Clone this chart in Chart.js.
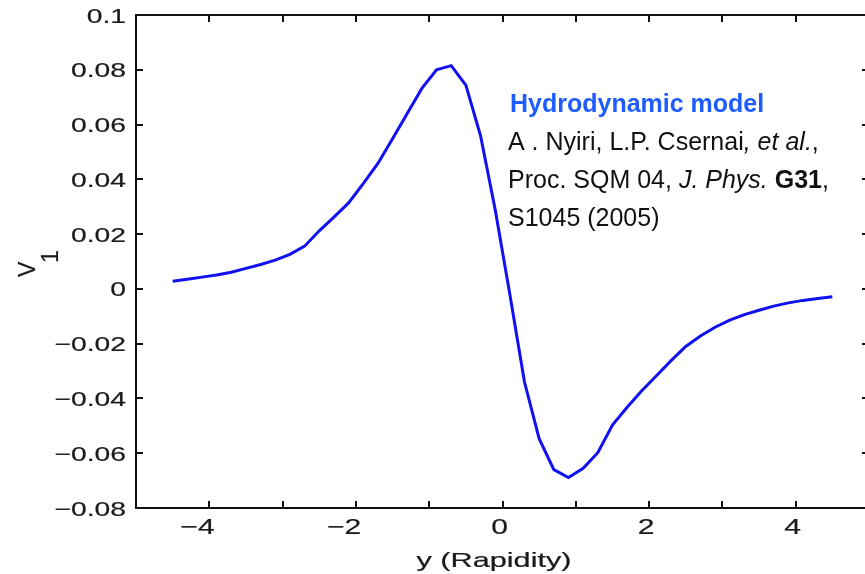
<!DOCTYPE html>
<html>
<head>
<meta charset="utf-8">
<script src="https://cdn.jsdelivr.net/npm/chart.js@4/dist/chart.umd.min.js"></script>
<style>
  html, body { margin: 0; padding: 0; background: #fff; overflow: hidden; }
  #wrap { position: absolute; left: 0; top: 0; width: 880px; height: 574px; }
</style>
</head>
<body>
<div id="wrap"><canvas id="c" width="880" height="574"></canvas></div>
<script>
// ---- data ----
const rapidity = [-4.5, -4.3, -4.1, -3.9, -3.7, -3.5, -3.3, -3.1, -2.9, -2.7,
                  -2.5, -2.3, -2.1, -1.9, -1.7, -1.5, -1.3, -1.1, -0.9, -0.7,
                  -0.5, -0.3, -0.1, 0.1, 0.3, 0.5, 0.7, 0.9, 1.1, 1.3,
                  1.5, 1.7, 1.9, 2.1, 2.3, 2.5, 2.7, 2.9, 3.1, 3.3,
                  3.5, 3.7, 3.9, 4.1, 4.3, 4.5];
const v1 = [0.0028, 0.0035, 0.0043, 0.0051, 0.0061, 0.0075, 0.0089, 0.0105, 0.0126, 0.0156,
            0.0212, 0.0262, 0.0314, 0.0384, 0.0458, 0.0548, 0.0640, 0.0732, 0.0800, 0.0815,
            0.0744, 0.0560, 0.0290, -0.0020, -0.0340, -0.0547, -0.0660, -0.0689, -0.0655, -0.0598,
            -0.0497, -0.0432, -0.0372, -0.0317, -0.0262, -0.0210, -0.0172, -0.0140, -0.0114, -0.0094,
            -0.0078, -0.0063, -0.0051, -0.0042, -0.0035, -0.0029];
const xTickLabels = ['\u22124', '\u22122', '0', '2', '4'];
const xTickLabelValues = [-4, -2, 0, 2, 4];
const yTickValues = [-0.08, -0.06, -0.04, -0.02, 0, 0.02, 0.04, 0.06, 0.08, 0.1];
const yTickLabels = ['\u22120.08', '\u22120.06', '\u22120.04', '\u22120.02', '0', '0.02', '0.04', '0.06', '0.08', '0.1'];
const xTitle = 'y (Rapidity)';
const yTitleMain = 'V';
const yTitleSub = '1';
const noteTitle = 'Hydrodynamic model';

const FONT = '"Liberation Sans", Arial, Helvetica, sans-serif';

function stretched(ctx, text, x, y, sx, align) {
  ctx.save();
  ctx.translate(x, y);
  ctx.scale(sx, 1);
  ctx.textAlign = align;
  ctx.textBaseline = 'alphabetic';
  ctx.lineWidth = 0.2;
  ctx.strokeStyle = ctx.fillStyle;
  ctx.fillText(text, 0, 0);
  ctx.strokeText(text, 0, 0);
  ctx.restore();
}

function drawRuns(ctx, runs, x, y) {
  let cx = x;
  ctx.textAlign = 'left';
  ctx.textBaseline = 'alphabetic';
  for (const r of runs) {
    ctx.font = r.font;
    ctx.fillStyle = r.color || '#111';
    ctx.fillText(r.t, cx, y);
    cx += ctx.measureText(r.t).width;
  }
}

const decor = {
  id: 'decor',
  afterDraw(chart) {
    const ctx = chart.ctx;
    const a = chart.chartArea;
    const xs = chart.scales.x, ys = chart.scales.y;
    ctx.save();
    // box
    ctx.strokeStyle = '#111';
    ctx.lineWidth = 2;
    ctx.strokeRect(a.left, a.top, a.right - a.left, a.bottom - a.top);
    // ticks (inward)
    ctx.lineWidth = 2;
    ctx.beginPath();
    xs.ticks.forEach(t => {
      const px = Math.round(xs.getPixelForValue(t.value));
      ctx.moveTo(px, a.bottom); ctx.lineTo(px, a.bottom - 7);
      ctx.moveTo(px, a.top); ctx.lineTo(px, a.top + 7);
    });
    ys.ticks.forEach(t => {
      const py = Math.round(ys.getPixelForValue(t.value));
      ctx.moveTo(a.left, py); ctx.lineTo(a.left + 7, py);
      ctx.moveTo(a.right, py); ctx.lineTo(a.right - 7, py);
    });
    ctx.stroke();

    // y tick labels
    ctx.fillStyle = '#1a1a1a';
    ctx.font = '20.5px ' + FONT;
    yTickValues.forEach((v, i) => {
      const py = ys.getPixelForValue(v);
      stretched(ctx, yTickLabels[i], a.left - 10, py + 7.5, 1.38, 'right');
    });
    // x tick labels (digits centred, minus hanging left)
    ctx.font = '21.5px ' + FONT;
    xTickLabelValues.forEach((v, i) => {
      const px = xs.getPixelForValue(v) - 3;
      const lab = xTickLabels[i];
      const neg = lab.startsWith('\u2212');
      const digits = neg ? lab.slice(1) : lab;
      const w = ctx.measureText(digits).width * 1.4;
      stretched(ctx, digits, px, a.bottom + 26, 1.4, 'center');
      if (neg) stretched(ctx, '\u2212', px - w / 2, a.bottom + 26, 1.4, 'right');
    });
    // x title
    ctx.font = '21px ' + FONT;
    const tw = ctx.measureText(xTitle).width;
    stretched(ctx, xTitle, 494, 567, 155 / tw, 'center');
    // y title V_1 (rotated)
    ctx.save();
    ctx.translate(35, 277);
    ctx.rotate(-Math.PI / 2);
    ctx.font = '23px ' + FONT;
    stretched(ctx, yTitleMain, 0, 0, 1, 'left');
    stretched(ctx, yTitleSub, 14, 23, 1, 'left');
    ctx.restore();

    // annotation
    drawRuns(ctx, [{ t: noteTitle, font: 'bold 25px ' + FONT, color: '#1e5cff' }], 510, 112);
    drawRuns(ctx, [
      { t: 'A . Nyiri, L.P. Csernai', font: '25px ' + FONT },
      { t: ', et al.', font: 'italic 25px ' + FONT },
      { t: ',', font: '25px ' + FONT }
    ], 508, 150);
    drawRuns(ctx, [
      { t: 'Proc. SQM 04, ', font: '25px ' + FONT },
      { t: 'J. Phys.', font: 'italic 25px ' + FONT },
      { t: ' ', font: '25px ' + FONT },
      { t: 'G31', font: 'bold 25px ' + FONT },
      { t: ',', font: '25px ' + FONT }
    ], 508, 188);
    drawRuns(ctx, [{ t: 'S1045 (2005)', font: '25px ' + FONT }], 508, 226);
    ctx.restore();
  }
};

new Chart(document.getElementById('c'), {
  type: 'line',
  data: {
    datasets: [{
      label: 'v1',
      data: rapidity.map((x, i) => ({ x: x, y: v1[i] })),
      borderColor: '#1010f0',
      borderWidth: 3,
      pointRadius: 0,
      tension: 0,
      fill: false
    }]
  },
  options: {
    responsive: false,
    animation: false,
    devicePixelRatio: 1,
    layout: { padding: { left: 0, top: 15, right: 11, bottom: 0 } },
    plugins: { legend: { display: false }, tooltip: { enabled: false } },
    scales: {
      x: {
        type: 'linear', min: -5, max: 5,
        ticks: { display: false, stepSize: 1 },
        grid: { display: false, drawTicks: false },
        border: { display: false },
        afterFit(s) { s.height = 66; }
      },
      y: {
        type: 'linear', min: -0.08, max: 0.1,
        ticks: { display: false, stepSize: 0.02 },
        grid: { display: false, drawTicks: false },
        border: { display: false },
        afterFit(s) { s.width = 136; }
      }
    }
  },
  plugins: [decor]
});
</script>
</body>
</html>
